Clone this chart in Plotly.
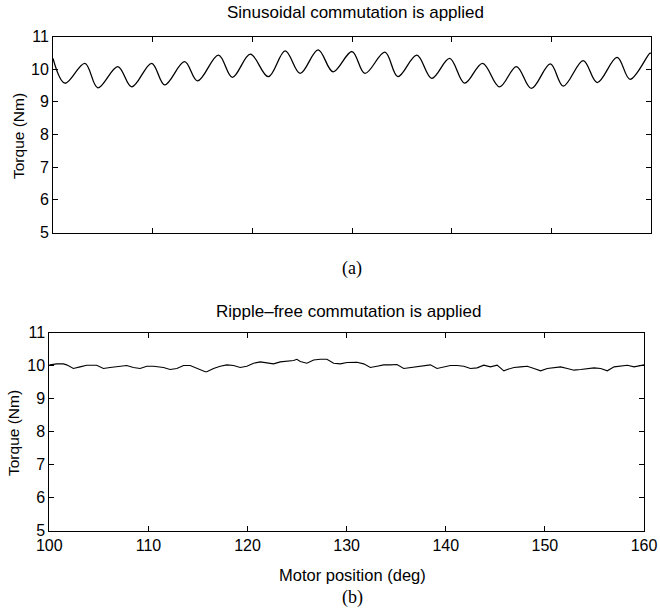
import plotly.graph_objects as go

# ---- Data ----
# (a) Sinusoidal commutation: key points (start, then alternating troughs / peaks)
sin_pos = [100.0, 101.2, 103.2, 104.5, 106.5, 107.9, 109.9, 111.2, 113.2, 114.5, 116.6,
           118.0, 119.8, 121.6, 123.3, 124.8, 126.6, 128.1, 130.0, 131.3, 133.3, 134.6,
           136.5, 138.0, 139.8, 141.3, 143.1, 144.8, 146.5, 148.0, 149.9, 151.2, 153.2,
           154.6, 156.6, 157.9, 159.9, 160.0]
sin_torque = [10.33, 9.57, 10.18, 9.43, 10.08, 9.46, 10.18, 9.52, 10.23, 9.64, 10.43,
              9.75, 10.46, 9.77, 10.56, 9.87, 10.59, 9.92, 10.54, 9.87, 10.52, 9.77,
              10.43, 9.72, 10.33, 9.57, 10.18, 9.46, 10.08, 9.41, 10.16, 9.48, 10.26,
              9.59, 10.36, 9.69, 10.49, 10.48]

# (b) Ripple-free commutation
rf_pos = [100.0, 100.07, 100.74, 101.42, 101.75, 102.43, 103.10, 103.77, 104.78, 105.46,
          106.13, 106.80, 107.81, 108.49, 109.16, 109.84, 110.51, 111.52, 112.19, 112.87,
          113.54, 114.21, 114.89, 115.73,
          115.89, 116.57, 117.24, 117.91, 118.59, 119.26, 119.93, 120.61, 121.28, 121.95,
          122.63, 123.30, 123.97, 124.65, 124.98, 125.32, 125.99, 126.67, 127.34, 128.01,
          128.69, 129.36, 130.03, 130.88,
          131.04, 131.72, 132.39, 133.06, 133.74, 134.41, 135.08, 135.76, 136.43, 137.10,
          137.78, 138.45, 139.12, 139.80, 140.47, 141.14, 141.82, 142.49, 143.16, 143.84,
          144.51, 145.18, 145.86,
          146.20, 146.88, 147.55, 148.22, 148.90, 149.57, 150.24, 150.92, 151.59, 152.26,
          152.94, 153.61, 154.28, 154.96, 155.63, 156.30, 156.98, 157.65, 158.32, 159.00,
          159.67, 160.0]
rf_torque = [10.03, 10.02, 10.05, 10.05, 10.02, 9.91, 9.96, 10.01, 10.01, 9.91,
             9.94, 9.96, 10.00, 9.94, 9.91, 9.98, 9.98, 9.94, 9.88, 9.91,
             10.00, 10.00, 9.91, 9.81,
             9.81, 9.91, 9.98, 10.02, 10.00, 9.94, 9.98, 10.07, 10.11, 10.09,
             10.05, 10.11, 10.13, 10.15, 10.19, 10.12, 10.07, 10.17, 10.19, 10.19,
             10.07, 10.05, 10.09, 10.11,
             10.10, 10.05, 9.94, 9.98, 10.02, 10.02, 10.03, 9.91, 9.94, 9.98,
             10.00, 10.02, 9.91, 9.96, 10.00, 10.00, 9.98, 9.91, 9.93, 10.01,
             9.96, 10.01, 9.84,
             9.88, 9.94, 9.96, 9.98, 9.91, 9.84, 9.91, 9.94, 9.96, 9.91,
             9.86, 9.88, 9.91, 9.93, 9.91, 9.84, 9.96, 9.98, 10.01, 9.96,
             10.00, 10.02]

x_ticks = [100, 110, 120, 130, 140, 150, 160]
y_ticks = [5, 6, 7, 8, 9, 10, 11]

title_a = "Sinusoidal commutation is applied"
title_b = "Ripple\u2013free commutation is applied"
y_label = "Torque (Nm)"
x_label = "Motor position (deg)"

W, H = 660, 612
FONT = "Liberation Sans, Arial, Helvetica, sans-serif"
SERIF = "Liberation Serif, Times New Roman, serif"

def px(v):
    return v / W

def py(v):
    return (H - v) / H

fig = go.Figure()
fig.add_trace(go.Scatter(x=sin_pos, y=sin_torque, mode="lines",
                         line=dict(color="black", width=1.3, shape="spline", smoothing=1.0),
                         xaxis="x", yaxis="y", showlegend=False))
fig.add_trace(go.Scatter(x=rf_pos, y=rf_torque, mode="lines",
                         line=dict(color="black", width=1.1),
                         xaxis="x2", yaxis="y2", showlegend=False))

axis_common = dict(showline=True, linecolor="black", linewidth=1, mirror="ticks",
                   ticks="inside", ticklen=5, tickcolor="black", tickwidth=1,
                   showgrid=False, zeroline=False, automargin=False,
                   tickfont=dict(family=FONT, size=16, color="black"))

fig.update_layout(
    width=W, height=H,
    margin=dict(l=0, r=0, t=0, b=0),
    paper_bgcolor="white", plot_bgcolor="white",
    xaxis=dict(domain=[px(53), px(651)], range=[100, 160], tickvals=x_ticks,
               showticklabels=False, anchor="y", **axis_common),
    yaxis=dict(domain=[py(232.5), py(36.5)], range=[5, 11], tickvals=y_ticks,
               anchor="x", **axis_common),
    xaxis2=dict(domain=[px(49.3), px(644)], range=[100, 160], tickvals=x_ticks,
                anchor="y2", **axis_common),
    yaxis2=dict(domain=[py(530.7), py(332.5)], range=[5, 11], tickvals=y_ticks,
                anchor="x2", **axis_common),
)

def txt(text, x, y, size, family=FONT, angle=0):
    return dict(text=text, x=px(x), y=py(y), xref="paper", yref="paper",
                showarrow=False, xanchor="center", yanchor="middle", textangle=angle,
                font=dict(family=family, size=size, color="black"))

ann = [
    txt(title_a, 355, 12, 17),
    txt(title_b, 349, 311, 17),
    txt(y_label, 18, 136, 15.5, angle=-90),
    txt(y_label, 14, 433, 15.5, angle=-90),
    txt(x_label, 352, 575, 16.5),
    txt("(a)", 352, 268, 18, family=SERIF),
    txt("(b)", 352, 597, 18, family=SERIF),
]
fig.update_layout(annotations=ann)

fig.write_html("out.html", config={"displayModeBar": False},
               post_script="document.body.style.margin='0';")
